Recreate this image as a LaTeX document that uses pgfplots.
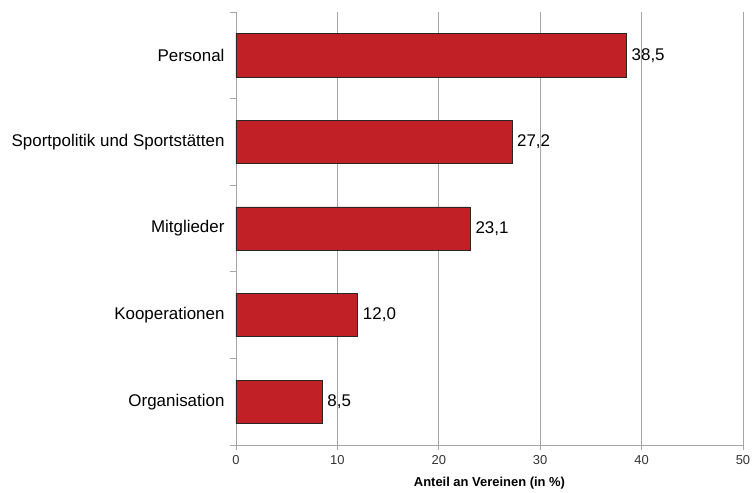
\documentclass[border=0pt]{standalone}
\usepackage{fontspec}
\setmainfont{Liberation Sans}
\usepackage{pgfplots}
\pgfplotsset{compat=1.18}
\definecolor{barred}{RGB}{193,32,39}
\definecolor{gridgray}{RGB}{165,165,165}

\begin{document}
\begin{tikzpicture}
\begin{axis}[
    name=ax,
    xbar, bar width=0.5,
    scale only axis, width=507bp, height=433bp,
    xmin=0, xmax=50, ymin=-0.5, ymax=4.5,
    axis x line*=bottom, axis y line*=left,
    axis line style={gridgray, line width=0.8bp},
    xtick={0,10,...,50},
    ytick={0,...,4},
    yticklabels={Organisation,Kooperationen,Mitglieder,Sportpolitik und Sportstätten,Personal},
    minor ytick={-0.5,0.5,...,4.5},
    tick align=outside,
    major tick length=5bp, minor tick length=6bp,
    tick style={gridgray, line width=0.8bp},
    major y tick style={draw=none},
    xmajorgrids,
    grid style={gridgray, line width=0.8bp},
    /pgf/number format/assume math mode=true,
    x tick label style={font=\fontsize{13}{15}\selectfont, text=black!80, yshift=-2bp},
    y tick label style={font=\fontsize{17}{19}\selectfont, xshift=-3bp},
    xlabel={\textbf{Anteil an Vereinen (in \%)}},
    xlabel style={font=\fontsize{13}{15}\selectfont, yshift=-6bp},
    point meta=x,
    nodes near coords={\pgfmathprintnumber[use comma,fixed,fixed zerofill,precision=1,assume math mode=true]{\pgfplotspointmeta}},
    nodes near coords style={font=\fontsize{17}{19}\selectfont, anchor=west, inner sep=5bp, text=black},
]
\addplot[fill=barred, draw=black!85, line width=0.6bp] coordinates {
    (8.5,0)
    (12.0,1)
    (23.1,2)
    (27.2,3)
    (38.5,4)
};
\end{axis}
\pgfresetboundingbox
\path[use as bounding box] (ax.south west) ++(-236bp,-48bp) rectangle ++(753bp,493bp);
\end{tikzpicture}
\end{document}
